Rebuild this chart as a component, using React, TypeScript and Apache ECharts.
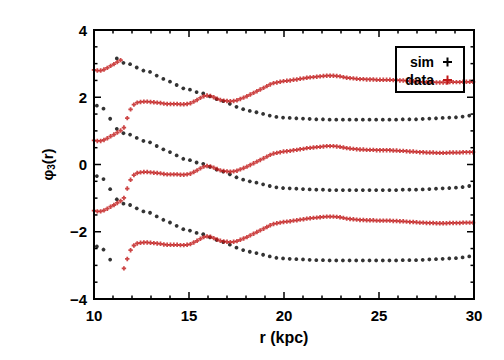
import React, { useEffect, useRef } from "react";
import * as echarts from "echarts";

// φ3 is defined modulo 2π/3: each curve is drawn in every copy that falls inside the window
const PHASE_PERIOD = (2 * Math.PI) / 3;
const COPY_SHIFTS = [1, 0, -1, -2];
const Y_WINDOW = [-3.12, 3.16];

// simulation (black dots), one copy
const SIM_R = [
  10.15, 10.5, 10.85, 11.2, 11.55, 11.9, 12.25, 12.6, 12.95, 13.3, 13.65, 14.0, 14.35, 14.7, 15.05,
  15.4, 15.75, 16.1, 16.45, 16.8, 17.15, 17.5, 17.85, 18.2, 18.55, 18.9, 19.25, 19.6, 19.95, 20.3,
  20.65, 21.0, 21.35, 21.7, 22.05, 22.4, 22.75, 23.1, 23.45, 23.8, 24.15, 24.5, 24.85, 25.2, 25.55,
  25.9, 26.25, 26.6, 26.95, 27.3, 27.65, 28.0, 28.35, 28.7, 29.05, 29.4, 29.75,
];
const SIM_PHI = [
  1.75, 1.66, 1.36, 1.06, 0.93, 0.89, 0.79, 0.7, 0.66, 0.55, 0.45, 0.37, 0.27, 0.17, 0.13,
  0.06, 0.02, -0.07, -0.15, -0.21, -0.29, -0.38, -0.45, -0.5, -0.54, -0.59, -0.64, -0.68, -0.7, -0.71,
  -0.72, -0.73, -0.74, -0.75, -0.75, -0.76, -0.76, -0.76, -0.76, -0.76, -0.76, -0.76, -0.76, -0.76, -0.76,
  -0.76, -0.75, -0.75, -0.75, -0.74, -0.73, -0.72, -0.71, -0.7, -0.69, -0.67, -0.64,
];

// data (red crosses), one copy
const DATA_R = [
  10.0, 10.175, 10.35, 10.525, 10.7, 10.875, 11.05, 11.225, 11.4, 11.575, 11.75, 11.925, 12.1, 12.275,
  12.45, 12.625, 12.8, 12.975, 13.15, 13.325, 13.5, 13.675, 13.85, 14.025, 14.2, 14.375, 14.55, 14.725,
  14.9, 15.075, 15.25, 15.425, 15.6, 15.775, 15.95, 16.125, 16.3, 16.475, 16.65, 16.825, 17.0, 17.175,
  17.35, 17.525, 17.7, 17.875, 18.05, 18.225, 18.4, 18.575, 18.75, 18.925, 19.1, 19.275, 19.45, 19.625,
  19.8, 19.975, 20.15, 20.325, 20.5, 20.675, 20.85, 21.025, 21.2, 21.375, 21.55, 21.725, 21.9, 22.075,
  22.25, 22.425, 22.6, 22.775, 22.95, 23.125, 23.3, 23.475, 23.65, 23.825, 24.0, 24.175, 24.35, 24.525,
  24.7, 24.875, 25.05, 25.225, 25.4, 25.575, 25.75, 25.925, 26.1, 26.275, 26.45, 26.625, 26.8, 26.975,
  27.15, 27.325, 27.5, 27.675, 27.85, 28.025, 28.2, 28.375, 28.55, 28.725, 28.9, 29.075, 29.25, 29.425,
  29.6, 29.775, 29.95,
];
const DATA_PHI = [
  0.72, 0.7, 0.7, 0.73, 0.78, 0.84, 0.89, 0.95, 1.01, 1.1, 1.38, 1.64, 1.78, 1.84,
  1.86, 1.87, 1.87, 1.86, 1.85, 1.84, 1.83, 1.81, 1.8, 1.8, 1.8, 1.8, 1.79, 1.79,
  1.8, 1.82, 1.87, 1.92, 1.98, 2.03, 2.05, 2.04, 2.0, 1.96, 1.92, 1.9, 1.89, 1.88,
  1.89, 1.91, 1.95, 1.99, 2.03, 2.08, 2.13, 2.18, 2.23, 2.28, 2.33, 2.38, 2.42, 2.44,
  2.46, 2.48, 2.49, 2.5, 2.52, 2.53, 2.55, 2.56, 2.58, 2.59, 2.6, 2.61, 2.62, 2.63,
  2.64, 2.64, 2.64, 2.63, 2.62, 2.6, 2.58, 2.57, 2.56, 2.55, 2.54, 2.54, 2.53, 2.53,
  2.53, 2.52, 2.52, 2.52, 2.52, 2.52, 2.51, 2.51, 2.5, 2.5, 2.49, 2.48, 2.48, 2.47,
  2.46, 2.46, 2.45, 2.45, 2.45, 2.44, 2.44, 2.44, 2.44, 2.45, 2.45, 2.45, 2.45, 2.46,
  2.46, 2.46, 2.46,
];

// axis ranges and tick marks
const X_RANGE = [10, 30];
const Y_RANGE = [-4, 4];
const X_MAJOR = [10, 15, 20, 25, 30];
const X_MINOR = [11, 12, 13, 14, 16, 17, 18, 19, 21, 22, 23, 24, 26, 27, 28, 29];
const Y_MAJOR = [-4, -2, 0, 2, 4];
const Y_MINOR = [-3.5, -3, -2.5, -1.5, -1, -0.5, 0.5, 1, 1.5, 2.5, 3, 3.5];

const GRID = { left: 94, right: 30, top: 30, bottom: 61 };
const W = 504;
const H = 360;
const FONT = "'Liberation Sans', Arial, Helvetica, sans-serif";
const RED = "#c01818";
const PLUS = "path://M3,0H7V3H10V7H7V10H3V7H0V3H3Z";

function copies(xs: number[], ys: number[]) {
  const pts: number[][] = [];
  for (const k of COPY_SHIFTS) {
    for (let i = 0; i < xs.length; i++) {
      const y = ys[i] + k * PHASE_PERIOD;
      if (y >= Y_WINDOW[0] && y <= Y_WINDOW[1]) pts.push([xs[i], y]);
    }
  }
  return pts;
}

// same linear mapping as the value axes (min/max fixed, grid fixed)
const plotW = W - GRID.left - GRID.right;
const plotH = H - GRID.top - GRID.bottom;
const toX = (v: number) => GRID.left + ((v - X_RANGE[0]) / (X_RANGE[1] - X_RANGE[0])) * plotW;
const toY = (v: number) => GRID.top + ((Y_RANGE[1] - v) / (Y_RANGE[1] - Y_RANGE[0])) * plotH;

function frameGraphics() {
  const x0 = toX(X_RANGE[0]);
  const x1 = toX(X_RANGE[1]);
  const y0 = toY(Y_RANGE[1]);
  const y1 = toY(Y_RANGE[0]);
  const fill = { fill: "#000" };
  const els: any[] = [
    { type: "rect", z: 10, shape: { x: x0 - 1, y: y0 - 1, width: x1 - x0 + 2, height: 2 }, style: fill },
    { type: "rect", z: 10, shape: { x: x0 - 1, y: y1 - 1, width: x1 - x0 + 2, height: 2 }, style: fill },
    { type: "rect", z: 10, shape: { x: x0 - 1, y: y0 - 1, width: 2, height: y1 - y0 + 2 }, style: fill },
    { type: "rect", z: 10, shape: { x: x1 - 1, y: y0 - 1, width: 2, height: y1 - y0 + 2 }, style: fill },
  ];
  const addX = (vals: number[], len: number) =>
    vals.forEach((v) => {
      const x = toX(v);
      els.push({ type: "rect", z: 10, shape: { x: x - 0.75, y: y1 - len, width: 1.5, height: len }, style: fill });
      els.push({ type: "rect", z: 10, shape: { x: x - 0.75, y: y0, width: 1.5, height: len }, style: fill });
    });
  const addY = (vals: number[], len: number) =>
    vals.forEach((v) => {
      const y = toY(v);
      els.push({ type: "rect", z: 10, shape: { x: x0, y: y - 0.75, width: len, height: 1.5 }, style: fill });
      els.push({ type: "rect", z: 10, shape: { x: x1 - len, y: y - 0.75, width: len, height: 1.5 }, style: fill });
    });
  addX(X_MAJOR, 7);
  addX(X_MINOR, 3.5);
  addY(Y_MAJOR, 7);
  addY(Y_MINOR, 3.5);
  return els;
}

export default function App() {
  const ref = useRef<HTMLDivElement>(null);
  useEffect(() => {
    if (!ref.current) return;
    const chart = echarts.init(ref.current, undefined, { renderer: "svg" });
    const labelStyle = { color: "#000", fontSize: 15, fontWeight: "bold", fontFamily: FONT };
    const hidden = {
      axisLine: { show: false, onZero: false },
      axisTick: { show: false },
      minorTick: { show: false },
      splitLine: { show: false },
      minorSplitLine: { show: false },
    };
    const legendGraphics: any[] = [
      {
        type: "rect",
        shape: { x: 396, y: 47, width: 68, height: 45 },
        style: { fill: "none", stroke: "#000", lineWidth: 2 },
        z: 10,
      },
      {
        type: "text",
        x: 434,
        y: 62,
        z: 11,
        style: { text: "sim", fill: "#000", font: `bold 14px ${FONT}`, textAlign: "right", textVerticalAlign: "middle" },
      },
      {
        type: "text",
        x: 434,
        y: 80,
        z: 11,
        style: { text: "data", fill: "#000", font: `bold 14px ${FONT}`, textAlign: "right", textVerticalAlign: "middle" },
      },
      { type: "line", z: 11, shape: { x1: 443, y1: 62, x2: 452, y2: 62 }, style: { stroke: "#000", lineWidth: 2 } },
      { type: "line", z: 11, shape: { x1: 447.5, y1: 57.5, x2: 447.5, y2: 66.5 }, style: { stroke: "#000", lineWidth: 2 } },
      { type: "line", z: 11, shape: { x1: 443, y1: 80, x2: 452, y2: 80 }, style: { stroke: RED, lineWidth: 2 } },
      { type: "line", z: 11, shape: { x1: 447.5, y1: 75.5, x2: 447.5, y2: 84.5 }, style: { stroke: RED, lineWidth: 2 } },
    ];
    chart.setOption({
      animation: false,
      backgroundColor: "#fff",
      grid: { ...GRID, containLabel: false },
      xAxis: {
        type: "value",
        min: X_RANGE[0],
        max: X_RANGE[1],
        interval: 5,
        ...hidden,
        axisLabel: { margin: 9, ...labelStyle },
        name: "r (kpc)",
        nameLocation: "middle",
        nameGap: 30,
        nameTextStyle: { ...labelStyle, fontSize: 16 },
      },
      yAxis: {
        type: "value",
        min: Y_RANGE[0],
        max: Y_RANGE[1],
        interval: 2,
        ...hidden,
        axisLabel: {
          margin: 7,
          ...labelStyle,
          formatter: (v: number) => String(v).replace("-", "\u2212"),
        },
        name: "{a|φ}{s|3}{a|(r)}",
        nameLocation: "middle",
        nameGap: 38,
        nameRotate: 90,
        nameTextStyle: {
          ...labelStyle,
          rich: {
            a: { fontSize: 15, fontWeight: "bold", fontFamily: FONT, color: "#000" },
            s: { fontSize: 10, fontWeight: "bold", fontFamily: FONT, color: "#000", padding: [8, 0, 0, 0] },
          },
        },
      },
      series: [
        {
          name: "sim",
          type: "scatter",
          symbol: "circle",
          symbolSize: 3.8,
          itemStyle: { color: "#000" },
          data: copies(SIM_R, SIM_PHI),
        },
        {
          name: "data",
          type: "scatter",
          symbol: PLUS,
          symbolSize: 4.4,
          itemStyle: { color: RED },
          data: copies(DATA_R, DATA_PHI),
        },
      ],
      graphic: [...legendGraphics, ...frameGraphics()],
    });

    return () => chart.dispose();
  }, []);
  return (
    <div
      ref={ref}
      style={{ position: "fixed", left: 0, top: 0, width: W, height: H, background: "#fff" }}
    />
  );
}
